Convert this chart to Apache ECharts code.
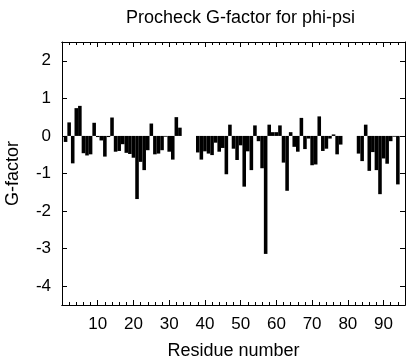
<!DOCTYPE html>
<html>
<head>
<meta charset="utf-8">
<script src="https://cdn.jsdelivr.net/npm/echarts@6/dist/echarts.min.js"></script>
<style>html,body{margin:0;padding:0;background:#fff}#c{width:416px;height:360px}</style>
</head>
<body>
<div id="c"></div>
<script>
// Residue numbers and Procheck phi-psi G-factor values
const residues = [
  1,2,3,4,5,6,7,8,9,10,11,12,13,14,15,16,17,18,19,20,21,22,23,24,25,26,27,28,29,30,31,32,33,
  38,39,40,41,42,43,44,45,46,47,48,49,50,51,52,53,54,55,56,57,58,59,60,61,62,63,64,65,66,67,68,69,70,71,72,73,74,75,76,77,78,
  83,84,85,86,87,88,89,90,91,92,93,94
];
const gFactor = [
  -0.16,0.36,-0.73,0.74,0.80,-0.46,-0.52,-0.49,0.35,-0.03,-0.12,-0.55,-0.03,0.49,-0.42,-0.40,-0.22,-0.45,-0.48,-0.58,-1.68,-0.69,-0.91,-0.38,0.33,-0.49,-0.47,-0.38,-0.02,-0.42,-0.63,0.50,0.22,
  -0.44,-0.63,-0.41,-0.47,-0.51,-0.18,-0.42,-0.32,-1.02,0.30,-0.34,-0.64,-0.25,-1.35,-0.41,-0.91,0.28,-0.14,-0.86,-3.14,0.30,0.10,0.10,0.28,-0.71,-1.46,0.10,-0.29,-0.42,0.48,-0.35,-0.07,-0.78,-0.76,0.52,-0.40,-0.34,-0.07,0.04,-0.49,-0.23,
  -0.47,-0.67,0.30,-0.93,-0.43,-0.91,-1.55,-0.60,-0.74,-0.14,-0.02,-1.29
];
const xTickLabels = [10,20,30,40,50,60,70,80,90];
const xMinorTicks = [2,4,6,8,12,14,16,18,22,24,26,28,32,34,36,38,42,44,46,48,52,54,56,58,62,64,66,68,72,74,76,78,82,84,86,88,92,94];
const yTickLabels = [-4,-3,-2,-1,0,1,2];

const FONT = 'Liberation Sans';
const black = '#000';
const chart = echarts.init(document.getElementById('c'), null, {renderer:'canvas'});

function xAx(pos, major, withLabels) {
  return {
    type:'value', position:pos, min:0, max:96,
    axisLine:{show:true, onZero:false, lineStyle:{color:black, width:1}},
    axisTick:{show:true, inside:true, length: major?5:3, customValues: major?xTickLabels:xMinorTicks, lineStyle:{color:black}},
    axisLabel:{show:withLabels, customValues:xTickLabels, color:black, fontFamily:FONT, fontSize:17, margin:11},
    splitLine:{show:false},
    name: withLabels ? 'Residue number' : '',
    nameLocation:'middle', nameGap:37,
    nameTextStyle:{color:black, fontFamily:FONT, fontSize:18}
  };
}
function yAx(pos, withLabels) {
  return {
    type:'value', position:pos, min:-4.5, max:2.5,
    axisLine:{show:true, onZero:false, lineStyle:{color:black, width:1}},
    axisTick:{show:true, inside:true, length:5, customValues:yTickLabels, lineStyle:{color:black}},
    axisLabel:{show:withLabels, customValues:yTickLabels, color:black, fontFamily:FONT, fontSize:17, margin:11},
    splitLine:{show:false},
    name: withLabels ? 'G-factor' : '',
    nameLocation:'middle', nameGap:40, nameRotate:90,
    nameTextStyle:{color:black, fontFamily:FONT, fontSize:18}
  };
}

chart.setOption({
  backgroundColor:'#fff',
  animation:false,
  title:{text:'Procheck G-factor for phi-psi', left:121, top:4,
    textStyle:{color:black, fontFamily:FONT, fontSize:18, fontWeight:'normal'}},
  grid:{left:62, right:11, top:42, bottom:55, containLabel:false, outerBoundsMode:'none'},
  xAxis:[xAx('bottom', true, true), xAx('bottom', false, false), xAx('top', true, false), xAx('top', false, false)],
  yAxis:[yAx('left', true), yAx('right', false)],
  series:[{
    type:'bar', xAxisIndex:0, yAxisIndex:0,
    data: residues.map((r,i)=>[r, gFactor[i]]),
    barWidth:'100%',
    itemStyle:{color:black},
    emphasis:{disabled:true}
  }]
});
</script>
</body>
</html>
